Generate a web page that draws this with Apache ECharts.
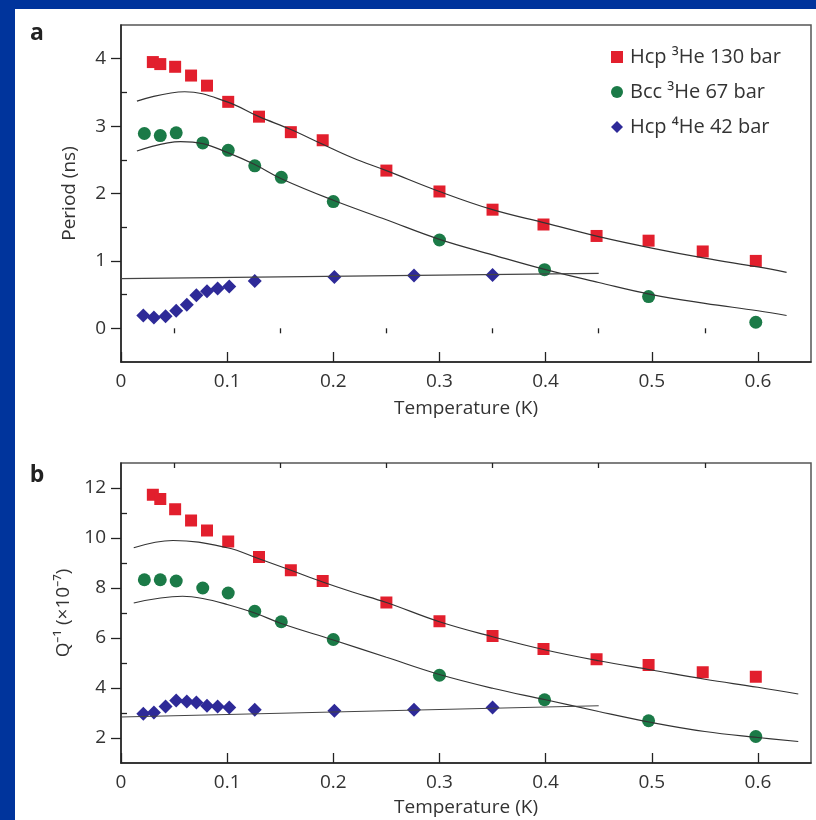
<!DOCTYPE html>
<html><head><meta charset="utf-8">
<script src="https://cdn.jsdelivr.net/npm/echarts@6/dist/echarts.min.js"></script>
<style>html,body{margin:0;padding:0;background:#fff}#c{width:816px;height:820px}</style>
</head><body><div id="c"></div>
<script>
// ---------- tick values ----------
const tempTicks = [0, 0.1, 0.2, 0.3, 0.4, 0.5, 0.6];
const tempMinorTicks = [0.05, 0.15, 0.25, 0.35, 0.45, 0.55];
const periodTicks = [0, 1, 2, 3, 4];
const periodMinorTicks = [0.5, 1.5, 2.5, 3.5];
const qTicks = [2, 4, 6, 8, 10, 12];
const qMinorTicks = [3, 5, 7, 9, 11];

// ---------- series names ----------
const nameHcp3 = 'Hcp \u00B3He 130 bar';
const nameBcc3 = 'Bcc \u00B3He 67 bar';
const nameHcp4 = 'Hcp \u2074He 42 bar';

// ---------- panel a: period (ns) ----------
const hcp3T = [0.030, 0.037, 0.051, 0.066, 0.081, 0.101, 0.130, 0.160, 0.190, 0.250, 0.300, 0.350, 0.398, 0.448, 0.497, 0.548, 0.598];
const hcp3Period = [3.95, 3.92, 3.88, 3.75, 3.60, 3.36, 3.14, 2.91, 2.79, 2.34, 2.03, 1.76, 1.54, 1.37, 1.30, 1.14, 1.00];
const bcc3T = [0.022, 0.037, 0.052, 0.077, 0.101, 0.126, 0.151, 0.200, 0.300, 0.399, 0.497, 0.598];
const bcc3Period = [2.89, 2.86, 2.90, 2.75, 2.64, 2.41, 2.24, 1.88, 1.31, 0.87, 0.47, 0.09];
const hcp4T = [0.021, 0.031, 0.042, 0.052, 0.062, 0.071, 0.081, 0.091, 0.102, 0.126, 0.201, 0.276, 0.350];
const hcp4Period = [0.19, 0.16, 0.18, 0.26, 0.35, 0.49, 0.55, 0.59, 0.62, 0.70, 0.76, 0.785, 0.79];

const fitHcp3T_a = [0.015, 0.06, 0.1, 0.13, 0.16, 0.19, 0.218, 0.25, 0.3, 0.35, 0.4, 0.45, 0.5, 0.55, 0.6, 0.627];
const fitHcp3Period = [3.37, 3.51, 3.36, 3.14, 2.95, 2.73, 2.53, 2.34, 2.03, 1.76, 1.56, 1.36, 1.19, 1.04, 0.91, 0.83];
const fitBcc3T_a = [0.015, 0.056, 0.077, 0.1, 0.126, 0.151, 0.2, 0.25, 0.3, 0.35, 0.4, 0.45, 0.5, 0.55, 0.6, 0.627];
const fitBcc3Period = [2.63, 2.77, 2.74, 2.61, 2.43, 2.22, 1.90, 1.61, 1.32, 1.09, 0.87, 0.68, 0.50, 0.37, 0.26, 0.19];
const fitHcp4T = [0, 0.45];
const fitHcp4Period = [0.736, 0.815];

// ---------- panel b: Q^-1 (x10^-7) ----------
const hcp3Q = [11.73, 11.56, 11.15, 10.70, 10.30, 9.86, 9.24, 8.71, 8.28, 7.42, 6.67, 6.08, 5.56, 5.15, 4.92, 4.63, 4.45];
const bcc3Q = [8.33, 8.33, 8.28, 8.00, 7.80, 7.07, 6.65, 5.94, 4.51, 3.53, 2.69, 2.06];
const hcp4Q = [2.97, 3.02, 3.26, 3.50, 3.46, 3.42, 3.29, 3.26, 3.22, 3.13, 3.09, 3.13, 3.22];

const fitHcp3T_b = [0.012, 0.049, 0.1, 0.13, 0.16, 0.19, 0.218, 0.25, 0.3, 0.35, 0.4, 0.45, 0.5, 0.55, 0.6, 0.638];
const fitHcp3Q = [9.61, 9.90, 9.61, 9.17, 8.71, 8.24, 7.84, 7.42, 6.65, 6.05, 5.52, 5.09, 4.72, 4.35, 4.03, 3.76];
const fitBcc3T_b = [0.012, 0.058, 0.077, 0.1, 0.126, 0.151, 0.2, 0.25, 0.3, 0.35, 0.4, 0.45, 0.5, 0.55, 0.6, 0.638];
const fitBcc3Q = [7.40, 7.67, 7.58, 7.34, 7.00, 6.58, 5.92, 5.23, 4.54, 3.99, 3.53, 3.06, 2.62, 2.26, 2.02, 1.86];
const fitHcp4Q = [2.84, 3.29];

// ---------- build ----------
const zip = (xs, ys) => xs.map((x, i) => [x, ys[i]]);
const FONT = '"Open Sans", sans-serif';
const RED = '#e21f2d', GREEN = '#1b7a47', BLUE = '#2e2a98';
const TXT = '#333';

function mainX(grid, name, gap) {
  return {
    type: 'value', gridIndex: grid, min: 0, max: 0.65,
    name: name, nameLocation: 'middle', nameGap: gap,
    nameTextStyle: { fontSize: 19, color: TXT, fontFamily: FONT },
    axisLine: { show: true, onZero: false, lineStyle: { color: '#222', width: 1.5 } },
    axisTick: { show: true, inside: true, length: 10, customValues: tempTicks, lineStyle: { color: '#222', width: 1.3 } },
    axisLabel: { show: true, margin: 10, fontSize: 19, color: TXT, fontFamily: FONT, customValues: tempTicks,
                 formatter: v => String(Math.round(v * 10) / 10) },
    splitLine: { show: false }
  };
}
function minorX(grid) {
  return {
    type: 'value', gridIndex: grid, min: 0, max: 0.65,
    axisLine: { show: false }, axisLabel: { show: false }, splitLine: { show: false },
    axisTick: { show: true, inside: true, length: 5, customValues: tempMinorTicks, lineStyle: { color: '#222', width: 1.3 } }
  };
}
function mainY(grid, min, max, ticks, name, gap) {
  return {
    type: 'value', gridIndex: grid, min: min, max: max,
    name: name, nameLocation: 'middle', nameGap: gap,
    nameTextStyle: { fontSize: 19, color: TXT, fontFamily: FONT },
    axisLine: { show: true, onZero: false, lineStyle: { color: '#222', width: 1.5 } },
    axisTick: { show: true, inside: false, length: 10, customValues: ticks, lineStyle: { color: '#222', width: 1.3 } },
    axisLabel: { show: true, margin: 15, fontSize: 19, color: TXT, fontFamily: FONT, customValues: ticks },
    splitLine: { show: false }
  };
}
function minorY(grid, min, max, ticks) {
  return {
    type: 'value', gridIndex: grid, min: min, max: max,
    axisLine: { show: false }, axisLabel: { show: false }, splitLine: { show: false },
    axisTick: { show: true, inside: false, length: 6, customValues: ticks, lineStyle: { color: '#222', width: 1.3 } }
  };
}
function scatter(name, xi, yi, data, symbol, size, color) {
  return { type: 'scatter', name: name, xAxisIndex: xi, yAxisIndex: yi, data: data,
           symbol: symbol, symbolSize: size, itemStyle: { color: color, opacity: 1 }, z: 2 };
}
function fit(name, xi, yi, data, color, smooth) {
  return { type: 'line', name: name, xAxisIndex: xi, yAxisIndex: yi, data: data,
           showSymbol: false, symbol: 'none', smooth: smooth, silent: true,
           lineStyle: { color: color, width: 1.2 }, z: 3 };
}

const option = {
  animation: false,
  backgroundColor: '#ffffff',
  textStyle: { fontFamily: FONT },
  grid: [
    { left: 121, top: 25, width: 690, height: 337, show: true, borderColor: '#555', borderWidth: 1.5, backgroundColor: 'transparent' },
    { left: 121, top: 463, width: 690, height: 300, show: true, borderColor: '#555', borderWidth: 1.5, backgroundColor: 'transparent' }
  ],
  xAxis: [ mainX(0, 'Temperature (K)', 37), minorX(0), mainX(1, 'Temperature (K)', 35), minorX(1) ],
  yAxis: [
    mainY(0, -0.5, 4.5, periodTicks, 'Period (ns)', 42), minorY(0, -0.5, 4.5, periodMinorTicks),
    mainY(1, 1, 13, qTicks, 'Q\u207B\u00B9 (\u00D710\u207B\u2077)', 42), minorY(1, 1, 13, qMinorTicks)
  ],
  legend: {
    data: [
      { name: nameHcp3, icon: 'rect' },
      { name: nameBcc3, icon: 'circle' },
      { name: nameHcp4, icon: 'diamond' }
    ],
    orient: 'vertical', left: 606, top: 41, itemWidth: 12, itemHeight: 12, itemGap: 13,
    textStyle: { fontSize: 20, color: TXT, fontFamily: FONT, lineHeight: 22, padding: [0, 0, 0, 2] },
    selectedMode: false
  },
  graphic: [
    { type: 'rect', shape: { x: 0, y: 0, width: 15, height: 820 }, style: { fill: '#00349c' }, silent: true },
    { type: 'rect', shape: { x: 0, y: 0, width: 816, height: 9 }, style: { fill: '#00349c' }, silent: true },
    { type: 'text', x: 37, y: 33, style: { text: 'a', font: 'bold 23px ' + FONT, fill: '#222', align: 'center', verticalAlign: 'middle' } },
    { type: 'text', x: 37, y: 475, style: { text: 'b', font: 'bold 23px ' + FONT, fill: '#222', align: 'center', verticalAlign: 'middle' } }
  ],
  series: [
    fit('fitA1', 0, 0, zip(fitHcp3T_a, fitHcp3Period), '#333', 0.4),
    fit('fitA2', 0, 0, zip(fitBcc3T_a, fitBcc3Period), '#333', 0.4),
    fit('fitA3', 0, 0, zip(fitHcp4T, fitHcp4Period), '#444', false),
    scatter(nameHcp3, 0, 0, zip(hcp3T, hcp3Period), 'rect', 12, RED),
    scatter(nameBcc3, 0, 0, zip(bcc3T, bcc3Period), 'circle', 13, GREEN),
    scatter(nameHcp4, 0, 0, zip(hcp4T, hcp4Period), 'diamond', 14, BLUE),

    fit('fitB1', 2, 2, zip(fitHcp3T_b, fitHcp3Q), '#333', 0.4),
    fit('fitB2', 2, 2, zip(fitBcc3T_b, fitBcc3Q), '#333', 0.4),
    fit('fitB3', 2, 2, zip(fitHcp4T, fitHcp4Q), '#444', false),
    scatter(nameHcp3, 2, 2, zip(hcp3T, hcp3Q), 'rect', 12, RED),
    scatter(nameBcc3, 2, 2, zip(bcc3T, bcc3Q), 'circle', 13, GREEN),
    scatter(nameHcp4, 2, 2, zip(hcp4T, hcp4Q), 'diamond', 14, BLUE)
  ]
};
const chart = echarts.init(document.getElementById('c'), null, { renderer: 'canvas' });
chart.setOption(option);
</script>
</body></html>
